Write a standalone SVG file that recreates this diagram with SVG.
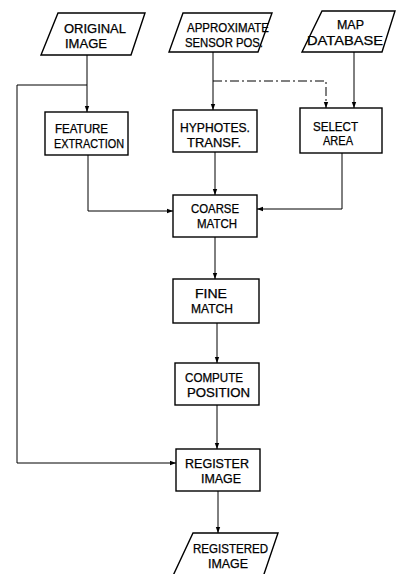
<svg xmlns="http://www.w3.org/2000/svg" width="396" height="574" viewBox="0 0 396 574">
<style>
.box{fill:#fff;stroke:#000;stroke-width:1.4}
.ln{fill:none;stroke:#000;stroke-width:1}
.dash{fill:none;stroke:#000;stroke-width:1;stroke-dasharray:9 3 2 3}
text{font-family:"Liberation Sans",Arial,sans-serif;font-size:12px;fill:#000;stroke:#000;stroke-width:0.25}
</style>
<defs>
<marker id="ah" viewBox="0 0 6 6" refX="6" refY="3" markerWidth="6" markerHeight="6" markerUnits="userSpaceOnUse" orient="auto">
<path d="M0,0.8 L6,3 L0,5.2 Z" fill="#000"/>
</marker>
</defs>
<rect width="396" height="574" fill="#fff"/>
<g id="connectors">
<path class="ln" d="M87,55 V112" marker-end="url(#ah)"/>
<path class="ln" d="M87,85 H17 V463 H176" marker-end="url(#ah)"/>
<path class="ln" d="M213,52 V110" marker-end="url(#ah)"/>
<path class="dash" d="M213,81 H326 V108" marker-end="url(#ah)"/>
<path class="ln" d="M354,52 V108" marker-end="url(#ah)"/>
<path class="ln" d="M88,155 V211 H173" marker-end="url(#ah)"/>
<path class="ln" d="M342,153 V209 H257" marker-end="url(#ah)"/>
<path class="ln" d="M215,152 V195" marker-end="url(#ah)"/>
<path class="ln" d="M215,237 V279" marker-end="url(#ah)"/>
<path class="ln" d="M217,323 V363" marker-end="url(#ah)"/>
<path class="ln" d="M217,405 V449" marker-end="url(#ah)"/>
<path class="ln" d="M218,491 V533" marker-end="url(#ah)"/>
</g>
<g id="original-image">
<polygon class="box" points="58,13 145,13 131,55 41,55"/>
<text x="64" y="33" textLength="62" lengthAdjust="spacingAndGlyphs">ORIGINAL</text>
<text x="65" y="48" textLength="42" lengthAdjust="spacingAndGlyphs">IMAGE</text>
</g>
<g id="approximate-sensor-pos">
<polygon class="box" points="183,13 272,13 258,52 169,52"/>
<text x="187" y="32" textLength="82" lengthAdjust="spacingAndGlyphs">APPROXIMATE</text>
<text x="185" y="47" textLength="78" lengthAdjust="spacingAndGlyphs">SENSOR POS.</text>
</g>
<g id="map-database">
<polygon class="box" points="322,11 395,11 382,52 302,52"/>
<text x="337" y="29" textLength="27" lengthAdjust="spacingAndGlyphs">MAP</text>
<text x="307" y="45" textLength="76" lengthAdjust="spacingAndGlyphs">DATABASE</text>
</g>
<g id="feature-extraction">
<rect class="box" x="45" y="112" width="83" height="43"/>
<text x="55" y="133" textLength="53" lengthAdjust="spacingAndGlyphs">FEATURE</text>
<text x="54" y="148" textLength="70" lengthAdjust="spacingAndGlyphs">EXTRACTION</text>
</g>
<g id="hyphotes-transf">
<rect class="box" x="173" y="110" width="84" height="42"/>
<text x="180" y="132" textLength="70" lengthAdjust="spacingAndGlyphs">HYPHOTES.</text>
<text x="187" y="147" textLength="54" lengthAdjust="spacingAndGlyphs">TRANSF.</text>
</g>
<g id="select-area">
<rect class="box" x="300" y="108" width="82" height="45"/>
<text x="313" y="131" textLength="45" lengthAdjust="spacingAndGlyphs">SELECT</text>
<text x="323" y="145" textLength="30" lengthAdjust="spacingAndGlyphs">AREA</text>
</g>
<g id="coarse-match">
<rect class="box" x="173" y="195" width="84" height="42"/>
<text x="191" y="213" textLength="48" lengthAdjust="spacingAndGlyphs">COARSE</text>
<text x="197" y="228" textLength="40" lengthAdjust="spacingAndGlyphs">MATCH</text>
</g>
<g id="fine-match">
<rect class="box" x="173" y="279" width="86" height="44"/>
<text x="195" y="298" textLength="32" lengthAdjust="spacingAndGlyphs">FINE</text>
<text x="191" y="313" textLength="42" lengthAdjust="spacingAndGlyphs">MATCH</text>
</g>
<g id="compute-position">
<rect class="box" x="175" y="363" width="84" height="42"/>
<text x="185" y="382" textLength="58" lengthAdjust="spacingAndGlyphs">COMPUTE</text>
<text x="187" y="397" textLength="63" lengthAdjust="spacingAndGlyphs">POSITION</text>
</g>
<g id="register-image">
<rect class="box" x="176" y="449" width="84" height="42"/>
<text x="185" y="468" textLength="64" lengthAdjust="spacingAndGlyphs">REGISTER</text>
<text x="201" y="483" textLength="40" lengthAdjust="spacingAndGlyphs">IMAGE</text>
</g>
<g id="registered-image">
<polygon class="box" points="193,533 278,533 262,580 171,580"/>
<text x="193" y="553" textLength="75" lengthAdjust="spacingAndGlyphs">REGISTERED</text>
<text x="208" y="568" textLength="40" lengthAdjust="spacingAndGlyphs">IMAGE</text>
</g>
</svg>
